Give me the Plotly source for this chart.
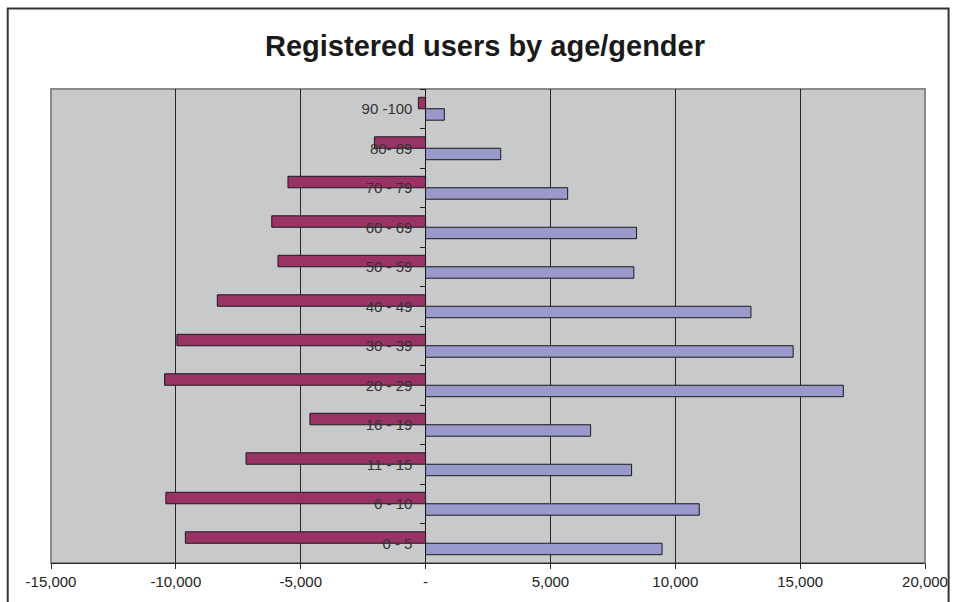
import plotly.graph_objects as go

age_groups = ["0 - 5", "6 - 10", "11 - 15", "16 - 19", "20 - 29", "30 - 39",
              "40 - 49", "50 - 59", "60 - 69", "70 - 79", "80- 89", "90 -100"]
female = [-9620, -10400, -7190, -4630, -10450, -9960,
          -8340, -5910, -6160, -5510, -2050, -290]
male = [9470, 10960, 8250, 6610, 16730, 14720,
        13030, 8340, 8450, 5690, 3010, 750]

x_tickvals = [-15000, -10000, -5000, 0, 5000, 10000, 15000, 20000]
x_ticktext = ["-15,000", "-10,000", "-5,000", "-", "5,000", "10,000", "15,000", "20,000"]

fig = go.Figure()
fig.add_trace(go.Bar(
    y=age_groups, x=male, orientation="h", name="Male",
    marker=dict(color="#9999CC", line=dict(color="#1a1a1a", width=1)),
))
fig.add_trace(go.Bar(
    y=age_groups, x=female, orientation="h", name="Female",
    marker=dict(color="#993366", line=dict(color="#1a1a1a", width=1)),
))

W, H = 960, 602
L = 51
T = 89
R = W - 929.3
B = H - 562.7
pw = W - L - R
ph = H - T - B
zero_pos = (427.3 - L) / pw

fig.update_layout(
    width=W, height=H, autosize=False,
    margin=dict(l=L, r=R, t=T, b=B, pad=0),
    paper_bgcolor="white",
    plot_bgcolor="#C8C9CB",
    barmode="group",
    bargap=0.42,
    bargroupgap=0,
    showlegend=False,
    font=dict(family="Liberation Sans, Arial, sans-serif", color="#222222"),
    title=dict(
        text="<b>Registered users by age/gender</b>",
        x=485 / W, xanchor="center",
        y=1 - 46 / H, yanchor="middle",
        font=dict(size=29, color="#1a1a1a", family="Liberation Sans, Arial, sans-serif"),
    ),
    xaxis=dict(
        range=[-15000, 20000],
        tickvals=x_tickvals, ticktext=x_ticktext,
        showgrid=True, gridcolor="#262626", gridwidth=1,
        zeroline=False,
        showline=True, linecolor="#262626", linewidth=1,
        ticks="outside", ticklen=5, tickcolor="#262626",
        tickfont=dict(size=15, color="#222222"),
        fixedrange=True,
    ),
    yaxis=dict(
        type="category",
        categoryorder="array", categoryarray=age_groups,
        anchor="free", position=zero_pos,
        showgrid=False, zeroline=False,
        showline=True, linecolor="#1a1a1a", linewidth=1,
        ticks="outside", ticklen=5, tickcolor="#1a1a1a",
        tickson="boundaries",
        ticklabelstandoff=10,
        tickfont=dict(size=15, color="#333333"),
        fixedrange=True,
    ),
    shapes=[
        dict(type="rect", xref="paper", yref="paper",
             x0=0, x1=1, y0=0, y1=1,
             line=dict(color="#8a8a8a", width=2), layer="below"),
        dict(type="rect", xref="paper", yref="paper",
             x0=(7.5 - L) / pw, x1=(953 - L) / pw,
             y0=(H - B - 620) / ph, y1=(H - B - 8.5) / ph,
             line=dict(color="#333333", width=2)),
    ],
)

fig.write_html(
    "out.html",
    config={"displayModeBar": False},
    post_script="document.body.style.margin='0';document.body.style.overflow='hidden';",
)
